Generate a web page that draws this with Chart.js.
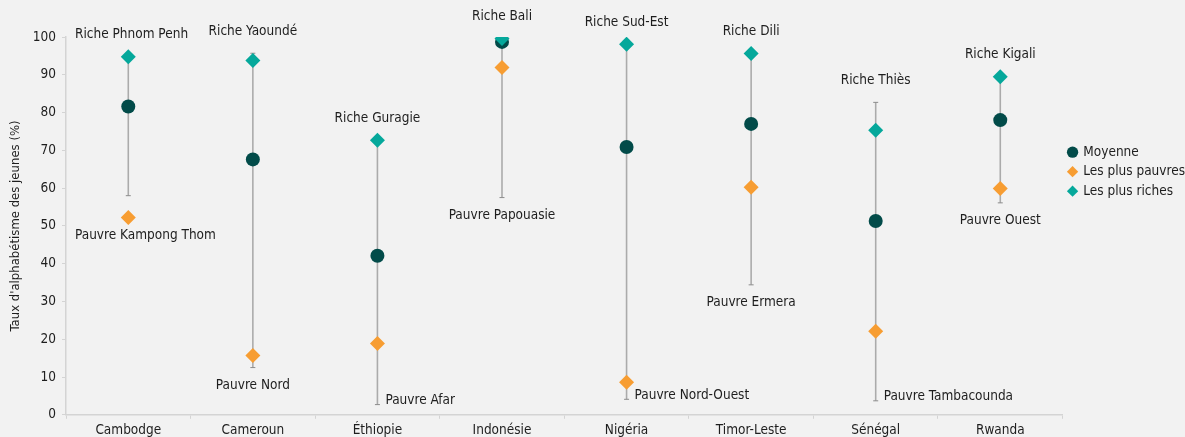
<!DOCTYPE html>
<html>
<head>
<meta charset="utf-8">
<script src="https://cdn.jsdelivr.net/npm/chart.js@4/dist/chart.umd.min.js"></script>
<style>
    html, body { margin: 0; padding: 0; background: #f2f2f2; overflow: hidden; }
    #wrap { position: relative; width: 1185px; height: 443px; }
</style>
</head>
<body>
<div id="wrap"><canvas id="chart"></canvas></div>
<script>
'use strict';

var countries = ['Cambodge', 'Cameroun', 'Éthiopie', 'Indonésie', 'Nigéria', 'Timor-Leste', 'Sénégal', 'Rwanda'];
var moyenne = [81.6, 67.6, 42.1, 98.7, 70.9, 77.0, 51.3, 78.0];
var plusPauvres = [52.2, 15.7, 18.9, 91.9, 8.6, 60.2, 22.1, 59.9];
var plusRiches = [94.8, 93.8, 72.7, 99.6, 98.1, 95.6, 75.3, 89.5];
// the grey range line of each country
var rangeLow = [58.0, 12.5, 2.7, 57.5, 4.1, 34.4, 3.7, 56.1];
var rangeHigh = [94.8, 95.7, 72.0, 99.6, 98.1, 95.6, 82.7, 89.5];
var richLabels = ['Riche Phnom Penh', 'Riche Yaoundé', 'Riche Guragie', 'Riche Bali', 'Riche Sud-Est', 'Riche Dili', 'Riche Thiès', 'Riche Kigali'];
var poorLabels = ['Pauvre Kampong Thom', 'Pauvre Nord', 'Pauvre Afar', 'Pauvre Papouasie', 'Pauvre Nord-Ouest', 'Pauvre Ermera', 'Pauvre Tambacounda', 'Pauvre Ouest'];
var poorLabelSide = ['below', 'below', 'right', 'below', 'right', 'below', 'right', 'below'];
var yTicks = [0, 10, 20, 30, 40, 50, 60, 70, 80, 90, 100];

var FONT = '"Liberation Sans Narrow", "DejaVu Sans Condensed", "Noto Sans", sans-serif';
var SIZE = 13.5;
var TEXT = '#1e1e1e';

var rangeLines = {
    id: 'rangeLines',
    beforeDatasetsDraw: function (chart) {
        var ctx = chart.ctx;
        var x = chart.scales.x;
        var y = chart.scales.y;
        ctx.save();
        for (var i = 0; i < countries.length; i++) {
            var px = x.getPixelForValue(i);
            var top = y.getPixelForValue(rangeHigh[i]);
            var bot = y.getPixelForValue(rangeLow[i]);
            ctx.strokeStyle = '#ababab';
            ctx.lineWidth = 1.6;
            ctx.beginPath();
            ctx.moveTo(px, top);
            ctx.lineTo(px, bot);
            ctx.stroke();
            // small caps
            ctx.strokeStyle = '#8c8c8c';
            ctx.lineWidth = 1;
            ctx.beginPath();
            ctx.moveTo(px - 2.5, top);
            ctx.lineTo(px + 2.5, top);
            ctx.moveTo(px - 2.5, bot);
            ctx.lineTo(px + 2.5, bot);
            ctx.stroke();
        }
        ctx.restore();
    },
};

var pointLabels = {
    id: 'pointLabels',
    afterDatasetsDraw: function (chart) {
        var ctx = chart.ctx;
        var x = chart.scales.x;
        var y = chart.scales.y;
        var minLeft = chart.chartArea.left + 9;
        ctx.save();
        ctx.font = SIZE + 'px ' + FONT;
        ctx.fillStyle = TEXT;
        ctx.textBaseline = 'middle';
        ctx.textAlign = 'left';

        function centered(text, px, py) {
            var w = ctx.measureText(text).width;
            ctx.fillText(text, Math.max(px - w / 2, minLeft), py);
        }

        for (var i = 0; i < countries.length; i++) {
            var px = x.getPixelForValue(i);
            var top = y.getPixelForValue(Math.max(rangeHigh[i], plusRiches[i]));
            centered(richLabels[i], px, top - 22);

            var bot = y.getPixelForValue(Math.min(rangeLow[i], plusPauvres[i]));
            if (poorLabelSide[i] === 'right') {
                ctx.fillText(poorLabels[i], px + 8, bot - 4);
            } else {
                centered(poorLabels[i], px, bot + 18);
            }
        }
        ctx.restore();
    },
};

var config = {
    type: 'line',
    data: {
        labels: countries,
        datasets: [{
            label: 'Moyenne',
            data: moyenne,
            showLine: false,
            pointStyle: 'circle',
            pointRadius: 7,
            backgroundColor: '#024b49',
            borderColor: '#024b49',
            borderWidth: 0,
            order: 3,
        }, {
            label: 'Les plus pauvres',
            data: plusPauvres,
            showLine: false,
            pointStyle: 'rectRot',
            pointRadius: 7.5,
            backgroundColor: '#f79d32',
            borderColor: '#f79d32',
            borderWidth: 0,
            order: 2,
        }, {
            label: 'Les plus riches',
            data: plusRiches,
            showLine: false,
            pointStyle: 'rectRot',
            pointRadius: 7.5,
            backgroundColor: '#05a89b',
            borderColor: '#05a89b',
            borderWidth: 0,
            order: 1,
        }],
    },
    options: {
        responsive: true,
        maintainAspectRatio: false,
        animation: false,
        layout: {padding: {top: 37, left: 0, right: -10, bottom: 0}},
        plugins: {
            tooltip: {enabled: false},
            legend: {
                position: 'right',
                align: 'start',
                title: {display: true, text: '', padding: {top: 88, bottom: 0}},
                labels: {
                    usePointStyle: true,
                    boxWidth: 8,
                    boxHeight: 8,
                    padding: 6,
                    color: TEXT,
                    font: {family: FONT, size: SIZE},
                    generateLabels: function (chart) {
                        return chart.data.datasets.map(function (ds, i) {
                            return {
                                text: ds.label,
                                fillStyle: ds.backgroundColor,
                                strokeStyle: ds.backgroundColor,
                                lineWidth: 0,
                                pointStyle: ds.pointStyle,
                                datasetIndex: i,
                                fontColor: TEXT,
                            };
                        });
                    },
                },
            },
        },
        scales: {
            x: {
                offset: true,
                grid: {
                    display: true,
                    offset: true,
                    drawOnChartArea: false,
                    drawTicks: true,
                    tickLength: 4,
                    color: '#d4d4d4',
                },
                border: {display: true, color: '#d4d4d4', width: 1.5},
                ticks: {color: TEXT, font: {family: FONT, size: SIZE}, padding: 4, maxRotation: 0, autoSkip: false},
            },
            y: {
                min: 0,
                max: 100,
                afterBuildTicks: function (scale) {
                    scale.ticks = yTicks.map(function (v) { return {value: v}; });
                },
                afterFit: function (scale) {
                    scale.width = 66;
                },
                grid: {display: true, drawOnChartArea: false, drawTicks: true, tickLength: 4, color: '#d4d4d4'},
                border: {display: true, color: '#d4d4d4', width: 1.5},
                ticks: {color: TEXT, font: {family: FONT, size: SIZE}, padding: 6},
                title: {
                    display: true,
                    text: "Taux d'alphabétisme des jeunes (%)",
                    color: TEXT,
                    font: {family: FONT, size: 13},
                    padding: {top: 8, bottom: 0},
                },
            },
        },
    },
    plugins: [rangeLines, pointLabels],
};

var canvas = document.getElementById('chart');
var context = canvas.getContext('2d');
new Chart(context, config);
</script>
</body>
</html>
